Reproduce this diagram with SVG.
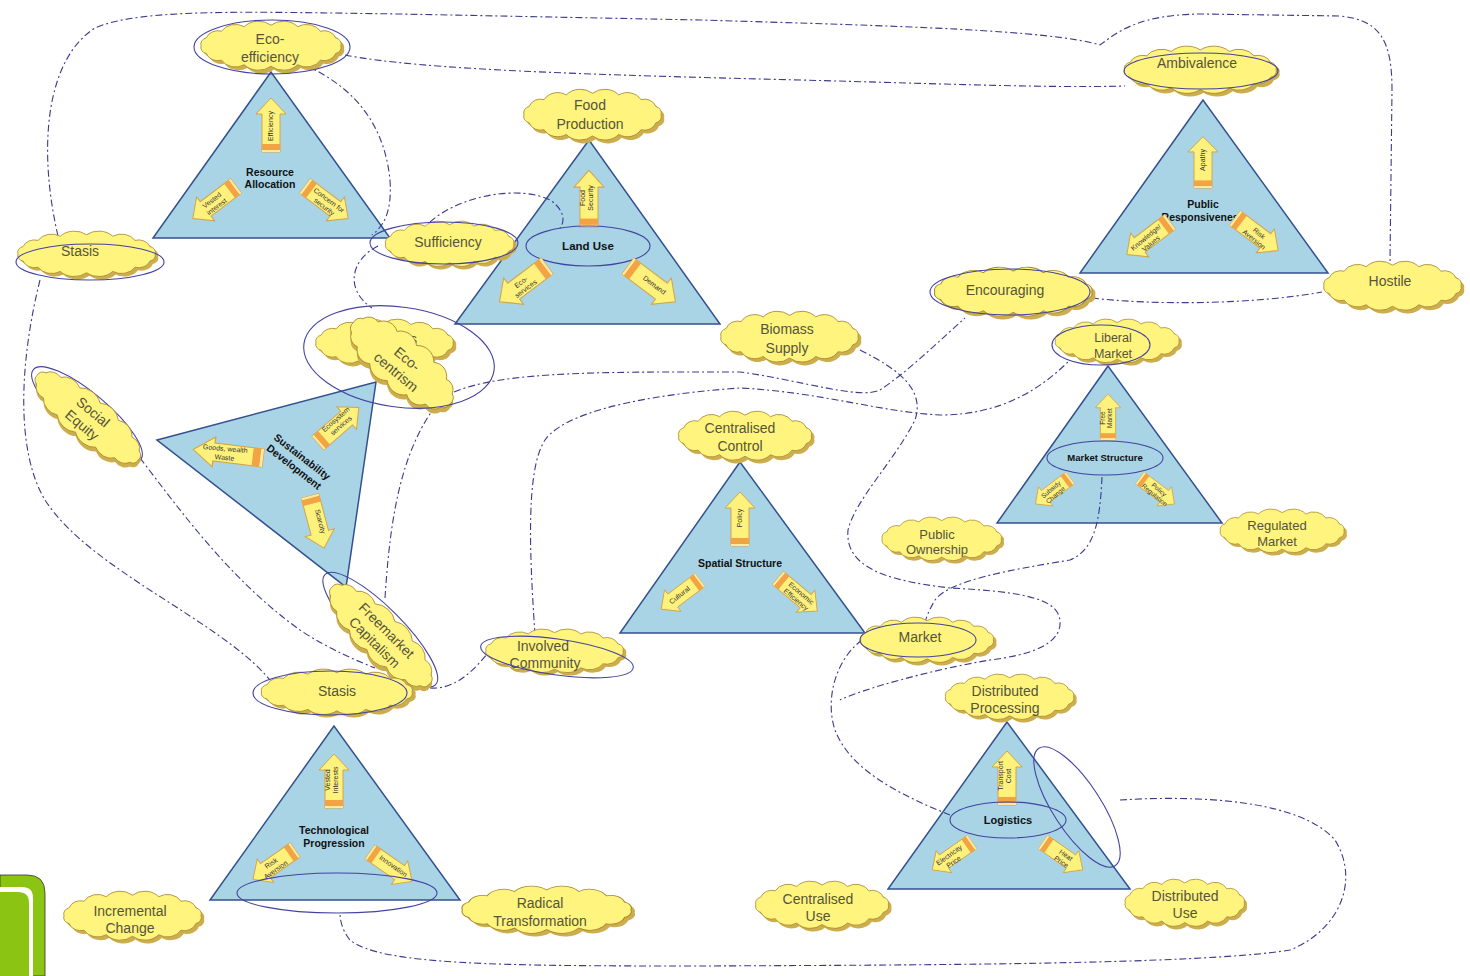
<svg xmlns="http://www.w3.org/2000/svg" xmlns:xlink="http://www.w3.org/1999/xlink" width="1470" height="976" viewBox="0 0 1470 976">
<style>
.tri{fill:#A8D4E6;stroke:#34508F;stroke-width:1.5}
.arw{fill:#FFF27C;stroke:#D2A548;stroke-width:1}
.ct{font-family:"Liberation Sans",Arial,sans-serif;font-size:14px;fill:#55553a;text-anchor:middle}
.tt{font-family:"Liberation Sans",Arial,sans-serif;font-weight:bold;font-size:10.5px;fill:#111;text-anchor:middle}
.at{font-family:"Liberation Sans",Arial,sans-serif;font-size:7px;fill:#333;text-anchor:middle}
.el{fill:none;stroke:#4343A0;stroke-width:1.1}
.cn{fill:none;stroke:#3A3A8E;stroke-width:1.1;stroke-dasharray:7 3 2 3}
</style>
<defs>
<path id="cp" d="M192,40 A10,10 0 0 1 185,52.3 A16,16 0 0 1 165,62.6 A21,21 0 0 1 135.2,69.6 A25,25 0 0 1 100,72 A25,25 0 0 1 64.8,69.6 A21,21 0 0 1 35,62.6 A16,16 0 0 1 15,52.3 A10,10 0 0 1 8,40 A10,10 0 0 1 15,27.7 A16,16 0 0 1 35,17.4 A21,21 0 0 1 64.8,10.4 A25,25 0 0 1 100,8 A25,25 0 0 1 135.2,10.4 A21,21 0 0 1 165,17.4 A16,16 0 0 1 185,27.7 A10,10 0 0 1 192,40 Z"/>
<symbol id="cloud" viewBox="0 0 204 84" preserveAspectRatio="none">
<use href="#cp" transform="translate(4,5)" fill="#CDAE4E"/>
<use href="#cp" fill="#FFF47E" stroke="#A68632" stroke-width="1.2" vector-effect="non-scaling-stroke"/>
</symbol>
<g id="ar"><path d="M-9,0 V-38 H-15 L0,-54 L15,-38 H9 V0 Z" class="arw"/><rect x="-9" y="-8" width="18" height="6" fill="#F2A343"/><rect x="-9" y="-2" width="18" height="2" fill="#FFE9A0"/></g>
</defs>

<g id="decor">
<path d="M0,875 H27 Q45,875 45,893 V976 H0 Z" fill="#8CC414" stroke="#333" stroke-width="0.8"/>
<path d="M0,887 H22 Q33,887 33,898 V976 H0 Z" fill="#fff"/>
<path d="M0,892 H18 Q29,892 29,903 V976 H0 Z" fill="#8CC414"/>
</g>

<g id="tri-resource-allocation">
<polygon class="tri" points="271,72 153,238 390,238"/>
<use href="#ar" transform="translate(271,152)"/>
<text class="at" transform="translate(273,126) rotate(-90)">Efficiency</text>
<text class="tt" x="270" y="176">Resource</text><text class="tt" x="270" y="188">Allocation</text>
<use href="#ar" transform="translate(236,186) rotate(-127)"/>
<text class="at" transform="translate(214,203) rotate(-37)"><tspan x="0" dy="-1">Vested</tspan><tspan x="0" dy="8">interest</tspan></text>
<use href="#ar" transform="translate(305,186) rotate(127)"/>
<text class="at" transform="translate(327,203) rotate(37)"><tspan x="0" dy="-1">Concern for</tspan><tspan x="0" dy="8">security</tspan></text>
</g>

<g id="tri-land-use">
<polygon class="tri" points="589,140 455,324 720,324"/>
<use href="#ar" transform="translate(589,227) scale(1,1.05)"/>
<text class="at" transform="translate(586,198) rotate(-90)"><tspan x="0" dy="-1">Food</tspan><tspan x="0" dy="8">Security</tspan></text>
<ellipse class="el" cx="588" cy="246" rx="62" ry="20"/>
<text class="tt" x="588" y="250" style="font-size:11.5px">Land Use</text>
<use href="#ar" transform="translate(547,266) rotate(-127) scale(1.1)"/>
<text class="at" transform="translate(523,285) rotate(-37)"><tspan x="0" dy="-1">Eco-</tspan><tspan x="0" dy="8">services</tspan></text>
<use href="#ar" transform="translate(628,266) rotate(127) scale(1.1)"/>
<text class="at" transform="translate(653,287) rotate(37)">Demand</text>
</g>

<g id="tri-public-responsiveness">
<polygon class="tri" points="1203,100 1080,273 1328,273"/>
<use href="#ar" transform="translate(1203,188) scale(1,0.95)"/>
<text class="at" transform="translate(1205,160) rotate(-90)">Apathy</text>
<text class="tt" x="1203" y="208">Public</text><text class="tt" x="1203" y="221">Responsiveness</text>
<use href="#ar" transform="translate(1170,222) rotate(-127)"/>
<text class="at" transform="translate(1148,240) rotate(-40)"><tspan x="0" dy="-1">Knowledge/</tspan><tspan x="0" dy="8">Values</tspan></text>
<use href="#ar" transform="translate(1235,218) rotate(127)"/>
<text class="at" transform="translate(1257,236) rotate(40)"><tspan x="0" dy="-1">Risk</tspan><tspan x="0" dy="8">Aversion</tspan></text>
</g>

<g id="tri-sustainability">
<polygon class="tri" points="157,440 376,382 346,587"/>
<use href="#ar" transform="translate(263,458) rotate(-83) scale(1,1.3)"/>
<text class="at" transform="translate(225,452) rotate(5)"><tspan x="0" dy="-1">Goods, wealth</tspan><tspan x="0" dy="9">Waste</tspan></text>
<use href="#ar" transform="translate(318,443) rotate(49)"/>
<text class="at" transform="translate(338,422) rotate(-41)"><tspan x="0" dy="-1">Ecosystem</tspan><tspan x="0" dy="8">services</tspan></text>
<use href="#ar" transform="translate(310,496) rotate(165)"/>
<text class="at" transform="translate(318,522) rotate(76)">Scarcity</text>
<text class="tt" transform="translate(298,462) rotate(38)"><tspan x="0" dy="-3">Sustainability</tspan><tspan x="0" dy="13">Development</tspan></text>
</g>

<g id="tri-market-structure">
<polygon class="tri" points="1108,366 997,523 1222,523"/>
<use href="#ar" transform="translate(1108,440) scale(0.85)"/>
<text class="at" transform="translate(1106,418) rotate(-90)" style="font-size:6.5px"><tspan x="0" dy="-1">Free</tspan><tspan x="0" dy="7">Market</tspan></text>
<ellipse class="el" cx="1105" cy="458" rx="58" ry="17"/>
<text class="tt" x="1105" y="461" style="font-size:9.5px">Market Structure</text>
<use href="#ar" transform="translate(1070,478) rotate(-127) scale(0.8)"/>
<text class="at" transform="translate(1053,492) rotate(-40)" style="font-size:6.5px"><tspan x="0" dy="-1">Subsidy</tspan><tspan x="0" dy="7">Change</tspan></text>
<use href="#ar" transform="translate(1140,478) rotate(127) scale(0.8)"/>
<text class="at" transform="translate(1157,492) rotate(40)" style="font-size:6.5px"><tspan x="0" dy="-1">Policy</tspan><tspan x="0" dy="7">Regulation</tspan></text>
</g>

<g id="tri-spatial-structure">
<polygon class="tri" points="740,462 620,633 865,633"/>
<use href="#ar" transform="translate(740,546)"/>
<text class="at" transform="translate(742,518) rotate(-90)">Policy</text>
<text class="tt" x="740" y="567">Spatial Structure</text>
<use href="#ar" transform="translate(700,580) rotate(-127) scale(0.9)"/>
<text class="at" transform="translate(681,597) rotate(-38)">Cultural</text>
<use href="#ar" transform="translate(778,578) rotate(130) scale(0.95)"/>
<text class="at" transform="translate(799,596) rotate(40)"><tspan x="0" dy="-1">Economic</tspan><tspan x="0" dy="8">Efficiency</tspan></text>
</g>

<g id="tri-technological-progression">
<polygon class="tri" points="334,726 210,900 460,900"/>
<use href="#ar" transform="translate(334,808)"/>
<text class="at" transform="translate(331,780) rotate(-90)"><tspan x="0" dy="-1">Vested</tspan><tspan x="0" dy="8">Interests</tspan></text>
<text class="tt" x="334" y="834">Technological</text><text class="tt" x="334" y="847">Progression</text>
<use href="#ar" transform="translate(295,850) rotate(-125) scale(0.95)"/>
<text class="at" transform="translate(273,866) rotate(-35)"><tspan x="0" dy="-1">Risk</tspan><tspan x="0" dy="8">Aversion</tspan></text>
<use href="#ar" transform="translate(370,852) rotate(125) scale(0.95)"/>
<text class="at" transform="translate(392,868) rotate(35)">Innovation</text>
<ellipse class="el" cx="337" cy="893" rx="100" ry="20"/>
</g>

<g id="tri-logistics">
<polygon class="tri" points="1007,722 888,889 1130,889"/>
<use href="#ar" transform="translate(1007,805)"/>
<text class="at" transform="translate(1004,776) rotate(-90)"><tspan x="0" dy="-1">Transport</tspan><tspan x="0" dy="8">Cost</tspan></text>
<ellipse class="el" cx="1008" cy="820" rx="58" ry="18"/>
<text class="tt" x="1008" y="824" style="font-size:11px">Logistics</text>
<use href="#ar" transform="translate(972,842) rotate(-125) scale(0.9)"/>
<text class="at" transform="translate(951,858) rotate(-35)"><tspan x="0" dy="-1">Electricity</tspan><tspan x="0" dy="8">Price</tspan></text>
<use href="#ar" transform="translate(1043,842) rotate(125) scale(0.9)"/>
<text class="at" transform="translate(1064,858) rotate(35)"><tspan x="0" dy="-1">Heat</tspan><tspan x="0" dy="8">Price</tspan></text>
<ellipse class="el" cx="1077" cy="807" rx="70" ry="24" transform="rotate(57 1077 807)"/>
</g>

<g id="connectors">
<path class="cn" d="M58,236 C38,150 45,60 95,28 C140,8 250,12 400,14 L700,20 C900,26 1050,30 1100,45 C1120,30 1140,15 1200,14 L1340,16 C1380,20 1392,40 1392,90 L1390,262"/>
<path class="cn" d="M345,55 C420,70 600,75 800,80 C950,84 1050,88 1125,86"/>
<path class="cn" d="M305,65 C360,90 385,130 390,180 C392,210 385,225 372,235"/>
<path class="cn" d="M430,222 C460,195 520,185 550,200 C565,210 565,222 560,228"/>
<path class="cn" d="M378,246 C350,260 345,290 372,308"/>
<path class="cn" d="M40,280 C20,360 15,450 45,500 C90,570 220,620 270,680"/>
<path class="cn" d="M140,458 C180,510 230,580 300,630 C330,650 360,662 375,668"/>
<path class="cn" d="M430,688 C455,690 475,670 490,650"/>
<path class="cn" d="M385,598 C390,520 400,450 440,400 C480,370 600,372 740,372 C800,380 860,400 880,390 C910,370 940,340 965,318"/>
<path class="cn" d="M535,635 C530,560 525,470 545,440 C570,405 680,392 740,388 C820,392 880,412 940,415 C1000,415 1040,390 1070,360"/>
<path class="cn" d="M860,350 C900,370 925,390 915,420 C895,460 855,500 848,530 C845,565 880,580 950,588 C1030,592 1062,600 1060,625 C1058,645 1030,655 990,660 C930,670 860,690 840,700"/>
<path class="cn" d="M1102,477 C1100,520 1095,550 1070,560 C1010,570 950,580 935,600 C928,612 925,620 925,625"/>
<path class="cn" d="M862,640 C835,660 825,700 835,730 C850,770 900,795 950,815"/>
<path class="cn" d="M1092,298 C1150,305 1250,305 1322,292"/>
<path class="cn" d="M1120,800 C1200,795 1300,800 1335,840 C1360,880 1340,930 1290,950 C1200,965 900,965 700,966 C500,966 380,965 350,940 C340,928 340,915 340,913"/>
</g>

<g id="cloud-eco-efficiency"><use href="#cloud" x="195" y="20" width="155" height="54"/><text class="ct" x="270" y="44">Eco-</text><text class="ct" x="270" y="62">efficiency</text><ellipse class="el" cx="272" cy="47" rx="78" ry="27"/></g>
<g id="cloud-food-production"><use href="#cloud" x="518" y="88" width="152" height="56"/><text class="ct" x="590" y="110">Food</text><text class="ct" x="590" y="129">Production</text></g>
<g id="cloud-ambivalence"><use href="#cloud" x="1118" y="45" width="168" height="52"/><text class="ct" x="1197" y="68">Ambivalence</text><ellipse class="el" cx="1201" cy="71" rx="77" ry="18"/></g>
<g id="cloud-stasis-left"><use href="#cloud" x="12" y="230" width="152" height="50"/><text class="ct" x="80" y="256">Stasis</text><ellipse class="el" cx="90" cy="262" rx="74" ry="18"/></g>
<g id="cloud-sufficiency"><use href="#cloud" x="380" y="220" width="142" height="50"/><text class="ct" x="448" y="247">Sufficiency</text><ellipse class="el" cx="444" cy="243" rx="74" ry="21"/></g>
<g id="cloud-encouraging"><use href="#cloud" x="928" y="266" width="174" height="54"/><text class="ct" x="1005" y="295">Encouraging</text><ellipse class="el" cx="1010" cy="292" rx="80" ry="23"/></g>
<g id="cloud-hostile"><use href="#cloud" x="1318" y="260" width="152" height="54"/><text class="ct" x="1390" y="286">Hostile</text></g>
<g id="cloud-biomass-supply"><use href="#cloud" x="715" y="310" width="152" height="56"/><text class="ct" x="787" y="334">Biomass</text><text class="ct" x="787" y="353">Supply</text></g>
<g id="cloud-liberal-market"><use href="#cloud" x="1050" y="318" width="137" height="48"/><text class="ct" x="1113" y="342" style="font-size:12.5px">Liberal</text><text class="ct" x="1113" y="358" style="font-size:12.5px">Market</text><ellipse class="el" cx="1101" cy="345" rx="49" ry="20"/></g>
<g id="cloud-eco-centrism">
<use href="#cloud" x="310" y="318" width="152" height="52"/><text class="ct" x="410" y="344">ss</text>
<g transform="translate(402,365) rotate(40)"><use href="#cloud" x="-70" y="-30" width="140" height="60"/><text class="ct" x="0" y="-3">Eco-</text><text class="ct" x="0" y="14">centrism</text></g>
<ellipse class="el" cx="399" cy="357" rx="96" ry="50" transform="rotate(8 399 357)"/>
</g>
<g id="cloud-social-equity"><g transform="translate(88,418) rotate(40)"><ellipse class="el" cx="-3" cy="-2" rx="70" ry="21"/><use href="#cloud" x="-72" y="-24" width="146" height="50"/><text class="ct" x="0" y="-3">Social</text><text class="ct" x="0" y="14">Equity</text></g></g>
<g id="cloud-centralised-control"><use href="#cloud" x="673" y="410" width="147" height="54"/><text class="ct" x="740" y="433">Centralised</text><text class="ct" x="740" y="451">Control</text></g>
<g id="cloud-public-ownership"><use href="#cloud" x="877" y="516" width="132" height="48"/><text class="ct" x="937" y="539" style="font-size:13px">Public</text><text class="ct" x="937" y="554" style="font-size:13px">Ownership</text></g>
<g id="cloud-regulated-market"><use href="#cloud" x="1215" y="508" width="137" height="48"/><text class="ct" x="1277" y="530" style="font-size:13px">Regulated</text><text class="ct" x="1277" y="546" style="font-size:13px">Market</text></g>
<g id="cloud-market"><use href="#cloud" x="855" y="616" width="147" height="50"/><text class="ct" x="920" y="642">Market</text><ellipse class="el" cx="918" cy="640" rx="58" ry="17"/></g>
<g id="cloud-freemarket-capitalism"><g transform="translate(381,636) rotate(45)"><ellipse class="el" cx="-5" cy="-4" rx="78" ry="22"/><use href="#cloud" x="-75" y="-25" width="152" height="52"/><text class="ct" x="0" y="-3">Freemarket</text><text class="ct" x="0" y="14">Capitalism</text></g></g>
<g id="cloud-involved-community"><use href="#cloud" x="480" y="628" width="152" height="48"/><text class="ct" x="543" y="651">Involved</text><text class="ct" x="545" y="668">Community</text><ellipse class="el" cx="557" cy="657" rx="77" ry="18" transform="rotate(8 557 657)"/></g>
<g id="cloud-stasis-bottom"><use href="#cloud" x="255" y="668" width="167" height="50"/><text class="ct" x="337" y="696">Stasis</text><ellipse class="el" cx="330" cy="693" rx="77" ry="22"/></g>
<g id="cloud-distributed-processing"><use href="#cloud" x="940" y="673" width="142" height="50"/><text class="ct" x="1005" y="696">Distributed</text><text class="ct" x="1005" y="713">Processing</text></g>
<g id="cloud-incremental-change"><use href="#cloud" x="58" y="890" width="152" height="54"/><text class="ct" x="130" y="916">Incremental</text><text class="ct" x="130" y="933">Change</text></g>
<g id="cloud-radical-transformation"><use href="#cloud" x="455" y="885" width="187" height="52"/><text class="ct" x="540" y="908">Radical</text><text class="ct" x="540" y="926">Transformation</text></g>
<g id="cloud-centralised-use"><use href="#cloud" x="750" y="880" width="147" height="52"/><text class="ct" x="818" y="904">Centralised</text><text class="ct" x="818" y="921">Use</text></g>
<g id="cloud-distributed-use"><use href="#cloud" x="1120" y="878" width="132" height="52"/><text class="ct" x="1185" y="901">Distributed</text><text class="ct" x="1185" y="918">Use</text></g>
</svg>
